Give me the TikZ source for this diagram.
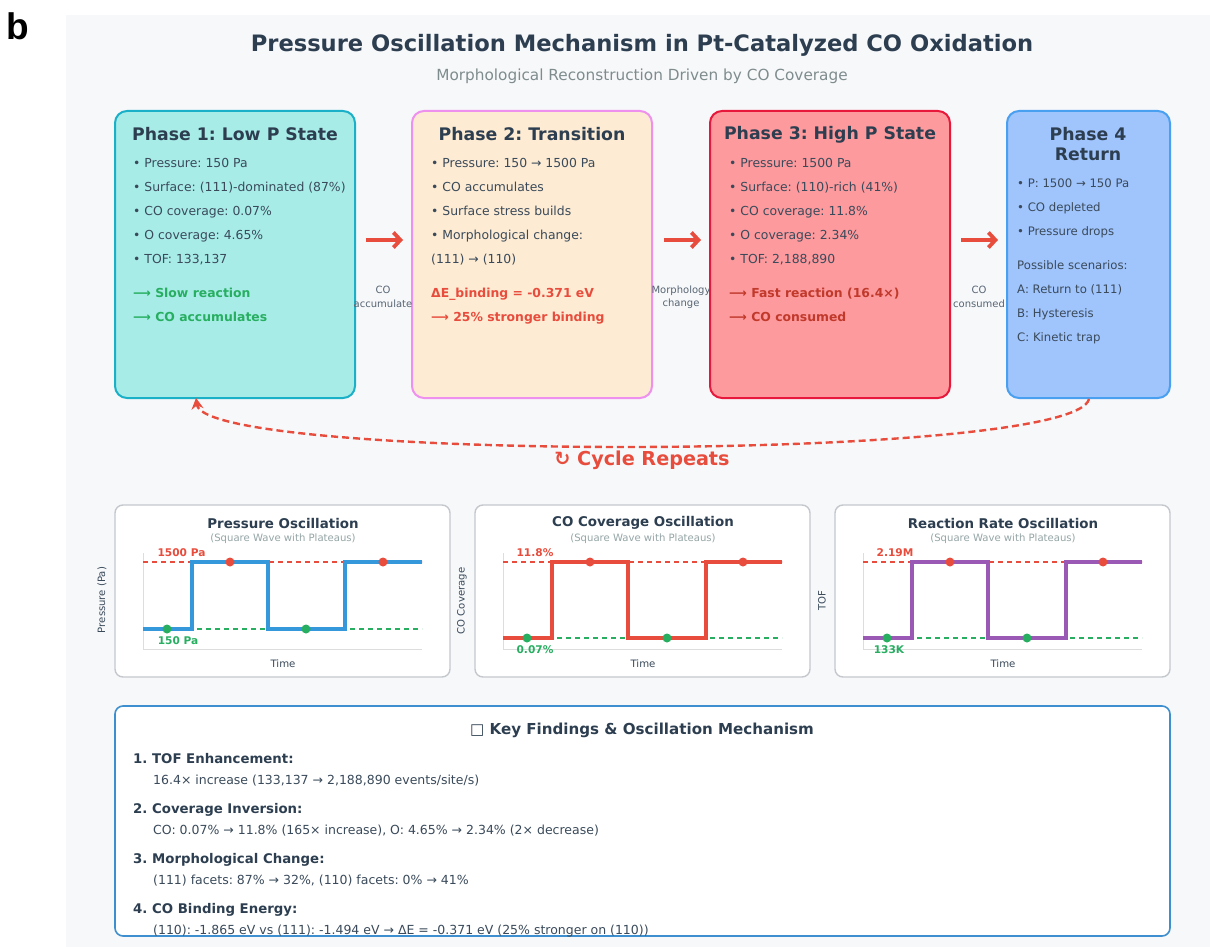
\documentclass[tikz,border=0pt]{standalone}
\usepackage{fontspec}
\setmainfont{DejaVu Sans}
\newfontfamily\blabelfont{Liberation Sans}
\usetikzlibrary{arrows.meta}
\frenchspacing
\definecolor{titlec}{HTML}{2C3E50}
\definecolor{bodyc}{HTML}{3A4A5A}
\definecolor{greenc}{HTML}{27AE60}
\definecolor{redc}{HTML}{E74C3C}
\definecolor{darkred}{HTML}{C0392B}
\definecolor{grayc}{HTML}{7F8C8D}
\definecolor{lgray}{HTML}{95A5A6}
\definecolor{panelbg}{HTML}{F7F8FA}
\definecolor{p1fill}{HTML}{A8ECE8}
\definecolor{p1line}{HTML}{1AB0C8}
\definecolor{p2fill}{HTML}{FDEBD3}
\definecolor{p2line}{HTML}{EE90EE}
\definecolor{p3fill}{HTML}{FD9A9E}
\definecolor{p3line}{HTML}{E8183C}
\definecolor{p4fill}{HTML}{A0C4FC}
\definecolor{p4line}{HTML}{4AA0F0}
\definecolor{boxgray}{HTML}{C4C8CC}
\definecolor{axisgray}{HTML}{DDDDDD}
\definecolor{wblue}{HTML}{3498DB}
\definecolor{wpurple}{HTML}{9B59B6}
\definecolor{kfline}{HTML}{3D8FD0}
\begin{document}
\frenchspacing
\begin{tikzpicture}[x=1pt,y=-1pt,
  phasebox/.style={rounded corners=12pt, line width=2pt, minimum height=287pt, inner sep=0pt},
  phead/.style={font=\bfseries\fontsize{17.3}{20}\selectfont, text=titlec, inner sep=0pt},
  body/.style={font=\fontsize{12.4}{14}\selectfont, text=bodyc, anchor=west, inner sep=0pt, text height=9pt, text depth=3pt},
  bodysm/.style={body, font=\fontsize{11.7}{14}\selectfont},
  gbold/.style={body, font=\bfseries\fontsize{12.4}{14}\selectfont, text=greenc},
  rbold/.style={body, font=\bfseries\fontsize{12.4}{14}\selectfont, text=redc},
  drbold/.style={body, font=\bfseries\fontsize{12.4}{14}\selectfont, text=darkred},
  alabel/.style={font=\fontsize{10}{13.5}\selectfont, text=bodyc!85, align=center, inner sep=0pt},
  bigarrow/.style={draw=redc, line width=4.8pt, -{Straight Barb[length=7pt, width=15pt, line width=3.8pt]}},
  cyc/.style={draw=redc, line width=2.4pt, dash pattern=on 7pt off 4pt, -{Stealth[length=11pt, width=12pt]}},
  chartbox/.style={draw=boxgray, fill=white, rounded corners=8pt, line width=1.4pt, minimum width=335pt, minimum height=172pt, inner sep=0pt},
  ctitle/.style={font=\bfseries\fontsize{13.4}{16}\selectfont, text=titlec, inner sep=0pt},
  csub/.style={font=\fontsize{10.1}{12}\selectfont, text=lgray, inner sep=0pt},
  ctime/.style={font=\fontsize{10.2}{12}\selectfont, text=bodyc, inner sep=0pt},
  cylab/.style={font=\fontsize{10.1}{12}\selectfont, text=bodyc, inner sep=0pt, rotate=90},
  hilab/.style={font=\bfseries\fontsize{10.6}{12}\selectfont, text=redc, inner sep=0pt},
  lolab/.style={font=\bfseries\fontsize{10.6}{12}\selectfont, text=greenc, inner sep=0pt},
  axisl/.style={draw=axisgray, line width=0.8pt},
  hidash/.style={draw=redc, line width=1.5pt, dash pattern=on 5pt off 4pt},
  lodash/.style={draw=greenc, line width=1.5pt, dash pattern=on 5pt off 4pt},
  wave/.style={line width=3.1pt, line join=miter},
  hdot/.style={fill=redc, draw=none, circle, minimum size=9pt, inner sep=0pt},
  ldot/.style={fill=greenc, draw=none, circle, minimum size=9pt, inner sep=0pt},
  kfhead/.style={font=\bfseries\fontsize{13.3}{16}\selectfont, text=titlec, anchor=west, inner sep=0pt, text height=9.5pt, text depth=3pt},
  kfbody/.style={font=\fontsize{12.5}{14}\selectfont, text=bodyc, anchor=west, inner sep=0pt, text height=9pt, text depth=3pt}
]
\useasboundingbox (0,0) rectangle (1210,947);
\fill[white] (0,0) rectangle (1210,947);
\fill[panelbg] (66,15) rectangle (1210,947);
\node[font=\blabelfont\bfseries\fontsize{37}{40}\selectfont, inner sep=0pt] (blabel) at (18,26) {b};

% titles
\node[font=\bfseries\fontsize{22.6}{26}\selectfont, text=titlec, inner sep=0pt] (title) at (642,45) {Pressure Oscillation Mechanism in Pt-Catalyzed CO Oxidation};
\node[font=\fontsize{15.3}{18}\selectfont, text=grayc, inner sep=0pt] (subtitle) at (642,76) {Morphological Reconstruction Driven by CO Coverage};

% phase boxes
\node[phasebox, draw=p1line, fill=p1fill, minimum width=240pt] (p1) at (235,254.5) {};
\node[phasebox, draw=p2line, fill=p2fill, minimum width=240pt] (p2) at (532,254.5) {};
\node[phasebox, draw=p3line, fill=p3fill, minimum width=240pt] (p3) at (830,254.5) {};
\node[phasebox, draw=p4line, fill=p4fill, minimum width=163pt] (p4) at (1088.5,254.5) {};

% phase 1
\node[phead] (h1) at (235,134.5) {Phase 1: Low P State};
\node[body] (t11) at (133,164.5) {• Pressure: 150 Pa};
\node[body] (t12) at (133,188.5) {• Surface: (111)-dominated (87\%)};
\node[body] (t13) at (133,212.5) {• CO coverage: 0.07\%};
\node[body] (t14) at (133,236.5) {• O coverage: 4.65\%};
\node[body] (t15) at (133,260.5) {• TOF: 133,137};
\node[gbold] (t16) at (133,294.5) {⟶ Slow reaction};
\node[gbold] (t17) at (133,318.5) {⟶ CO accumulates};

% phase 2
\node[phead] (h2) at (532,134.5) {Phase 2: Transition};
\node[body] (t21) at (431,164.5) {• Pressure: 150 → 1500 Pa};
\node[body] (t22) at (431,188.5) {• CO accumulates};
\node[body] (t23) at (431,212.5) {• Surface stress builds};
\node[body] (t24) at (431,236.5) {• Morphological change:};
\node[body] (t25) at (431,260.5) {(111) → (110)};
\node[rbold] (t26) at (431,294.5) {ΔE\_binding = -0.371 eV};
\node[rbold] (t27) at (431,318.5) {⟶ 25\% stronger binding};

% phase 3
\node[phead] (h3) at (830,134.5) {Phase 3: High P State};
\node[body] (t31) at (729,164.5) {• Pressure: 1500 Pa};
\node[body] (t32) at (729,188.5) {• Surface: (110)-rich (41\%)};
\node[body] (t33) at (729,212.5) {• CO coverage: 11.8\%};
\node[body] (t34) at (729,236.5) {• O coverage: 2.34\%};
\node[body] (t35) at (729,260.5) {• TOF: 2,188,890};
\node[drbold] (t36) at (729,294.5) {⟶ Fast reaction (16.4×)};
\node[drbold] (t37) at (729,318.5) {⟶ CO consumed};

% phase 4
\node[phead] (h4a) at (1088,134) {Phase 4};
\node[phead] (h4b) at (1088,154) {Return};
\node[bodysm] (t41) at (1017,184) {• P: 1500 → 150 Pa};
\node[bodysm] (t42) at (1017,208) {• CO depleted};
\node[bodysm] (t43) at (1017,232) {• Pressure drops};
\node[bodysm] (t44) at (1017,266) {Possible scenarios:};
\node[bodysm] (t45) at (1017,290) {A: Return to (111)};
\node[bodysm] (t46) at (1017,314) {B: Hysteresis};
\node[bodysm] (t47) at (1017,338) {C: Kinetic trap};

% arrows between phases
\coordinate (a1s) at (366,240); \coordinate (a1e) at (403,240);
\coordinate (a2s) at (664,240); \coordinate (a2e) at (701,240);
\coordinate (a3s) at (961,240); \coordinate (a3e) at (998,240);
\draw[bigarrow] (a1s) -- (a1e);
\draw[bigarrow] (a2s) -- (a2e);
\draw[bigarrow] (a3s) -- (a3e);
\node[alabel] (l1) at (383,297) {CO\\accumulate};
\node[alabel] (l2) at (681,297) {Morphology\\change};
\node[alabel] (l3) at (979,297) {CO\\consumed};

% cycle arrow
\coordinate (cs) at (1089,399);
\coordinate (ce) at (196,398);
\draw[cyc] (cs) .. controls (1075,462) and (205,462) .. (ce);
\node[font=\bfseries\fontsize{19.2}{22}\selectfont, text=redc, inner sep=0pt] (cycle) at (642,460) {↻ Cycle Repeats};

% chart panels
\node[chartbox] (c1) at (282.5,591) {};
\node[chartbox] (c2) at (642.5,591) {};
\node[chartbox] (c3) at (1002.5,591) {};

% chart 1
\node[ctitle] (c1t) at (283,523) {Pressure Oscillation};
\node[csub] (c1s) at (283,539) {(Square Wave with Plateaus)};
\draw[axisl] (143,553) -- (143,649) -- (422,649);
\draw[hidash] (143,562) -- (422,562);
\draw[lodash] (143,629) -- (422,629);
\draw[wave, wblue] (143,629) -- (192,629) -- (192,562) -- (268,562) -- (268,629) -- (345,629) -- (345,562) -- (422,562);
\node[ldot] (c1d1) at (167,629) {};
\node[ldot] (c1d2) at (306,629) {};
\node[hdot] (c1d3) at (230,562) {};
\node[hdot] (c1d4) at (383,562) {};
\node[hilab] (c1h) at (181.5,553) {1500 Pa};
\node[lolab] (c1l) at (178,641) {150 Pa};
\node[ctime] (c1x) at (283,664) {Time};
\node[cylab] (c1y) at (102,600) {Pressure (Pa)};

% chart 2
\node[ctitle] (c2t) at (643,523) {CO Coverage Oscillation};
\node[csub] (c2s) at (643,539) {(Square Wave with Plateaus)};
\draw[axisl] (503,553) -- (503,649) -- (782,649);
\draw[hidash] (503,562) -- (782,562);
\draw[lodash] (503,638) -- (782,638);
\draw[wave, redc] (503,638) -- (552,638) -- (552,562) -- (628,562) -- (628,638) -- (706,638) -- (706,562) -- (782,562);
\node[ldot] (c2d1) at (527,638) {};
\node[ldot] (c2d2) at (667,638) {};
\node[hdot] (c2d3) at (590,562) {};
\node[hdot] (c2d4) at (743,562) {};
\node[hilab] (c2h) at (535,553) {11.8\%};
\node[lolab] (c2l) at (535,650) {0.07\%};
\node[ctime] (c2x) at (643,664) {Time};
\node[cylab] (c2y) at (462,601) {CO Coverage};

% chart 3
\node[ctitle] (c3t) at (1003,523) {Reaction Rate Oscillation};
\node[csub] (c3s) at (1003,539) {(Square Wave with Plateaus)};
\draw[axisl] (863,553) -- (863,649) -- (1142,649);
\draw[hidash] (863,562) -- (1142,562);
\draw[lodash] (863,638) -- (1142,638);
\draw[wave, wpurple] (863,638) -- (912,638) -- (912,562) -- (988,562) -- (988,638) -- (1066,638) -- (1066,562) -- (1142,562);
\node[ldot] (c3d1) at (887,638) {};
\node[ldot] (c3d2) at (1027,638) {};
\node[hdot] (c3d3) at (950,562) {};
\node[hdot] (c3d4) at (1103,562) {};
\node[hilab] (c3h) at (895,553) {2.19M};
\node[lolab] (c3l) at (889,650) {133K};
\node[ctime] (c3x) at (1003,664) {Time};
\node[cylab] (c3y) at (822,601) {TOF};

% key findings
\node[draw=kfline, fill=white, rounded corners=8pt, line width=1.6pt, minimum width=1055pt, minimum height=230pt, inner sep=0pt] (kf) at (642.5,821) {};
\node[font=\bfseries\fontsize{15.1}{18}\selectfont, text=titlec, inner sep=0pt] (kft) at (642,730) {□ Key Findings \& Oscillation Mechanism};
\node[kfhead] (k1h) at (133,760) {1. TOF Enhancement:};
\node[kfbody] (k1b) at (153,781) {16.4× increase (133,137 → 2,188,890 events/site/s)};
\node[kfhead] (k2h) at (133,810) {2. Coverage Inversion:};
\node[kfbody] (k2b) at (153,831) {CO: 0.07\% → 11.8\% (165× increase), O: 4.65\% → 2.34\% (2× decrease)};
\node[kfhead] (k3h) at (133,860) {3. Morphological Change:};
\node[kfbody] (k3b) at (153,881) {(111) facets: 87\% → 32\%, (110) facets: 0\% → 41\%};
\node[kfhead] (k4h) at (133,910) {4. CO Binding Energy:};
\node[kfbody] (k4b) at (153,931) {(110): -1.865 eV vs (111): -1.494 eV → ΔE = -0.371 eV (25\% stronger on (110))};
\end{tikzpicture}
\end{document}
